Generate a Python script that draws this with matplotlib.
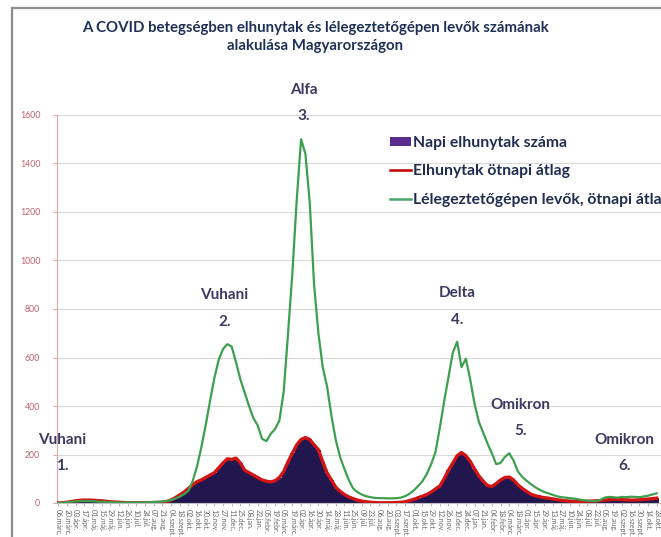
import numpy as np
import matplotlib
matplotlib.use("Agg")
import matplotlib.pyplot as plt
from matplotlib.patches import Patch, Rectangle
from matplotlib.lines import Line2D
import datetime as dt

plt.rcParams['font.family'] = ['Lato', 'DejaVu Sans']

# ---- data (weekly readings, starting 2020-03-06) ----
start_date = dt.date(2020, 3, 6)
deaths = [0, 1, 3, 6, 9, 11, 12, 12, 11, 10, 9, 7, 5, 4, 3, 2, 1, 1, 1, 1,
          1, 1, 2, 2, 3, 6, 12, 22, 33, 45, 60, 75, 88, 95, 105, 115, 125, 145, 165, 182,
          180, 185, 165, 135, 125, 115, 105, 95, 90, 87, 92, 105, 130, 170, 205, 240, 262, 270, 262, 240,
          220, 170, 124, 95, 65, 48, 35, 25, 18, 12, 8, 5, 3, 2, 1, 1, 1, 1, 2, 3,
          5, 10, 15, 22, 28, 35, 45, 58, 70, 100, 135, 165, 195, 208, 195, 172, 140, 112, 90, 72,
          68, 80, 95, 105, 107, 95, 75, 60, 48, 36, 30, 26, 22, 20, 17, 14, 11, 9, 8, 7,
          6, 6, 7, 8, 9, 10, 12, 14, 15, 15, 14, 13, 12, 12, 13, 15, 16, 18, 20]
ventilated = [0, 1, 3, 5, 7, 8, 8, 8, 7, 6, 5, 4, 3, 3, 2, 2, 2, 2, 2, 2,
              2, 3, 4, 5, 6, 8, 12, 18, 26, 36, 50, 90, 150, 230, 320, 420, 515, 590, 635, 655,
              645, 580, 510, 455, 400, 350, 320, 265, 255, 285, 305, 340, 460, 700, 950, 1250, 1500, 1440, 1240, 900,
              700, 560, 480, 360, 260, 190, 140, 95, 60, 45, 35, 28, 24, 21, 20, 20, 19, 19, 20, 22,
              28, 38, 52, 70, 90, 120, 160, 210, 310, 420, 520, 620, 665, 560, 595, 510, 410, 335, 290, 245,
              205, 160, 165, 190, 205, 175, 130, 108, 92, 78, 65, 55, 46, 40, 34, 28, 24, 22, 20, 18,
              15, 12, 10, 8, 8, 12, 22, 25, 24, 22, 25, 24, 26, 25, 24, 27, 30, 35, 40]
wave_names = ["Vuhani", "Vuhani", "Alfa", "Delta", "Omikron", "Omikron"]
wave_numbers = ["1.", "2.", "3.", "4.", "5.", "6."]
wave_dates = [dt.date(2020, 3, 13), dt.date(2020, 11, 29), dt.date(2021, 4, 7),
              dt.date(2021, 12, 10), dt.date(2022, 3, 22), dt.date(2022, 9, 6)]
wave_heights = [260, 857, 1703, 865, 405, 260]
series_names = ["Napi elhunytak száma", "Elhunytak ötnapi átlag",
                "Lélegeztetőgépen levők, ötnapi átlag"]
hu_months = ['jan.', 'febr.', 'márc.', 'ápr.', 'máj.', 'jún.', 'júl.', 'aug.',
             'szept.', 'okt.', 'nov.', 'dec.']
y_ticks = [0, 200, 400, 600, 800, 1000, 1200, 1400, 1600]

days = np.arange(len(deaths)) * 7
tick_days = np.arange(0, 1040, 14)
tick_labels = []
for d in tick_days:
    dd = start_date + dt.timedelta(days=int(d))
    tick_labels.append(f"{dd.day:02d}.{hu_months[dd.month - 1]}")

W, H = 661, 537
fig = plt.figure(figsize=(W / 100, H / 100), dpi=100)

# chart-area border
fig.patches.append(Rectangle((12 / W, -0.2), 1.5, 1.2 - 8 / H, transform=fig.transFigure,
                             fill=False, edgecolor='#8c8c8c', lw=1.6))

ax_left, ax_bottom = 57 / W, 1 - 503 / H
ax_w = (700 - 57) / W
ax_h = (503 - 115) / H
ax = fig.add_axes([ax_left, ax_bottom, ax_w, ax_h])

ax.bar(days, deaths, width=7, color='#22164f', edgecolor='none', zorder=2)
ax.plot(days, deaths, color='#d11414', lw=2.4, zorder=3)
ax.plot(days, ventilated, color='#3f9f50', lw=1.6, zorder=4)

ax.set_xlim(-2, 643 / 0.622 - 2)
ax.set_ylim(0, 1600)
ax.set_yticks(y_ticks)
ax.set_yticklabels([str(v) for v in y_ticks], color='#c0606a', fontsize=6.3)
ax.grid(axis='y', color='#d9d9d9', lw=0.8, zorder=0)
ax.set_axisbelow(True)
ax.tick_params(axis='y', length=3, color='#e3a3aa', pad=9)
ax.set_xticks(tick_days)
ax.set_xticklabels(tick_labels, rotation=-90, fontsize=5, color='#666666')
ax.tick_params(axis='x', length=2, color='#bbbbbb', pad=2)
for lbl in ax.get_xticklabels():
    lbl.set_va('top')
    lbl.set_ha('center')
ax.spines['left'].set_color('#e3a3aa')
ax.spines['bottom'].set_color('#bfbfbf')
ax.spines['top'].set_visible(False)
ax.spines['right'].set_visible(False)

for name, num, d, h in zip(wave_names, wave_numbers, wave_dates, wave_heights):
    xd = (d - start_date).days
    ax.text(xd, h, name, ha='center', va='center', fontsize=11, fontweight='bold',
            color='#3b3a62', zorder=5, clip_on=False)
    ax.annotate(num, xy=(xd, h), xytext=(0, -19), textcoords='offset points',
                ha='center', va='center', fontsize=11, fontweight='bold',
                color='#3b3a62', zorder=5, annotation_clip=False)

fig.text(315 / W, 1 - 37 / H,
         "A COVID betegségben elhunytak és lélegeztetőgépen levők számának\nalakulása Magyarországon",
         ha='center', va='center', fontsize=10.8, fontweight='bold', color='#1f3157',
         linespacing=1.3)

handles = [Patch(facecolor='#5a2d8f', edgecolor='none'),
           Line2D([], [], color='#c00000', lw=1.8),
           Line2D([], [], color='#4aa86a', lw=1.8)]
leg = fig.legend(handles, series_names, loc='upper left',
                 bbox_to_anchor=(384 / W, 1 - 130 / H), frameon=False,
                 fontsize=11.3, labelspacing=0.9, handlelength=1.35, handleheight=0.5,
                 handletextpad=0.1, borderaxespad=0)
for t in leg.get_texts():
    t.set_color('#1f2d50')
    t.set_fontweight('bold')

fig.savefig('out.png', dpi=100)
